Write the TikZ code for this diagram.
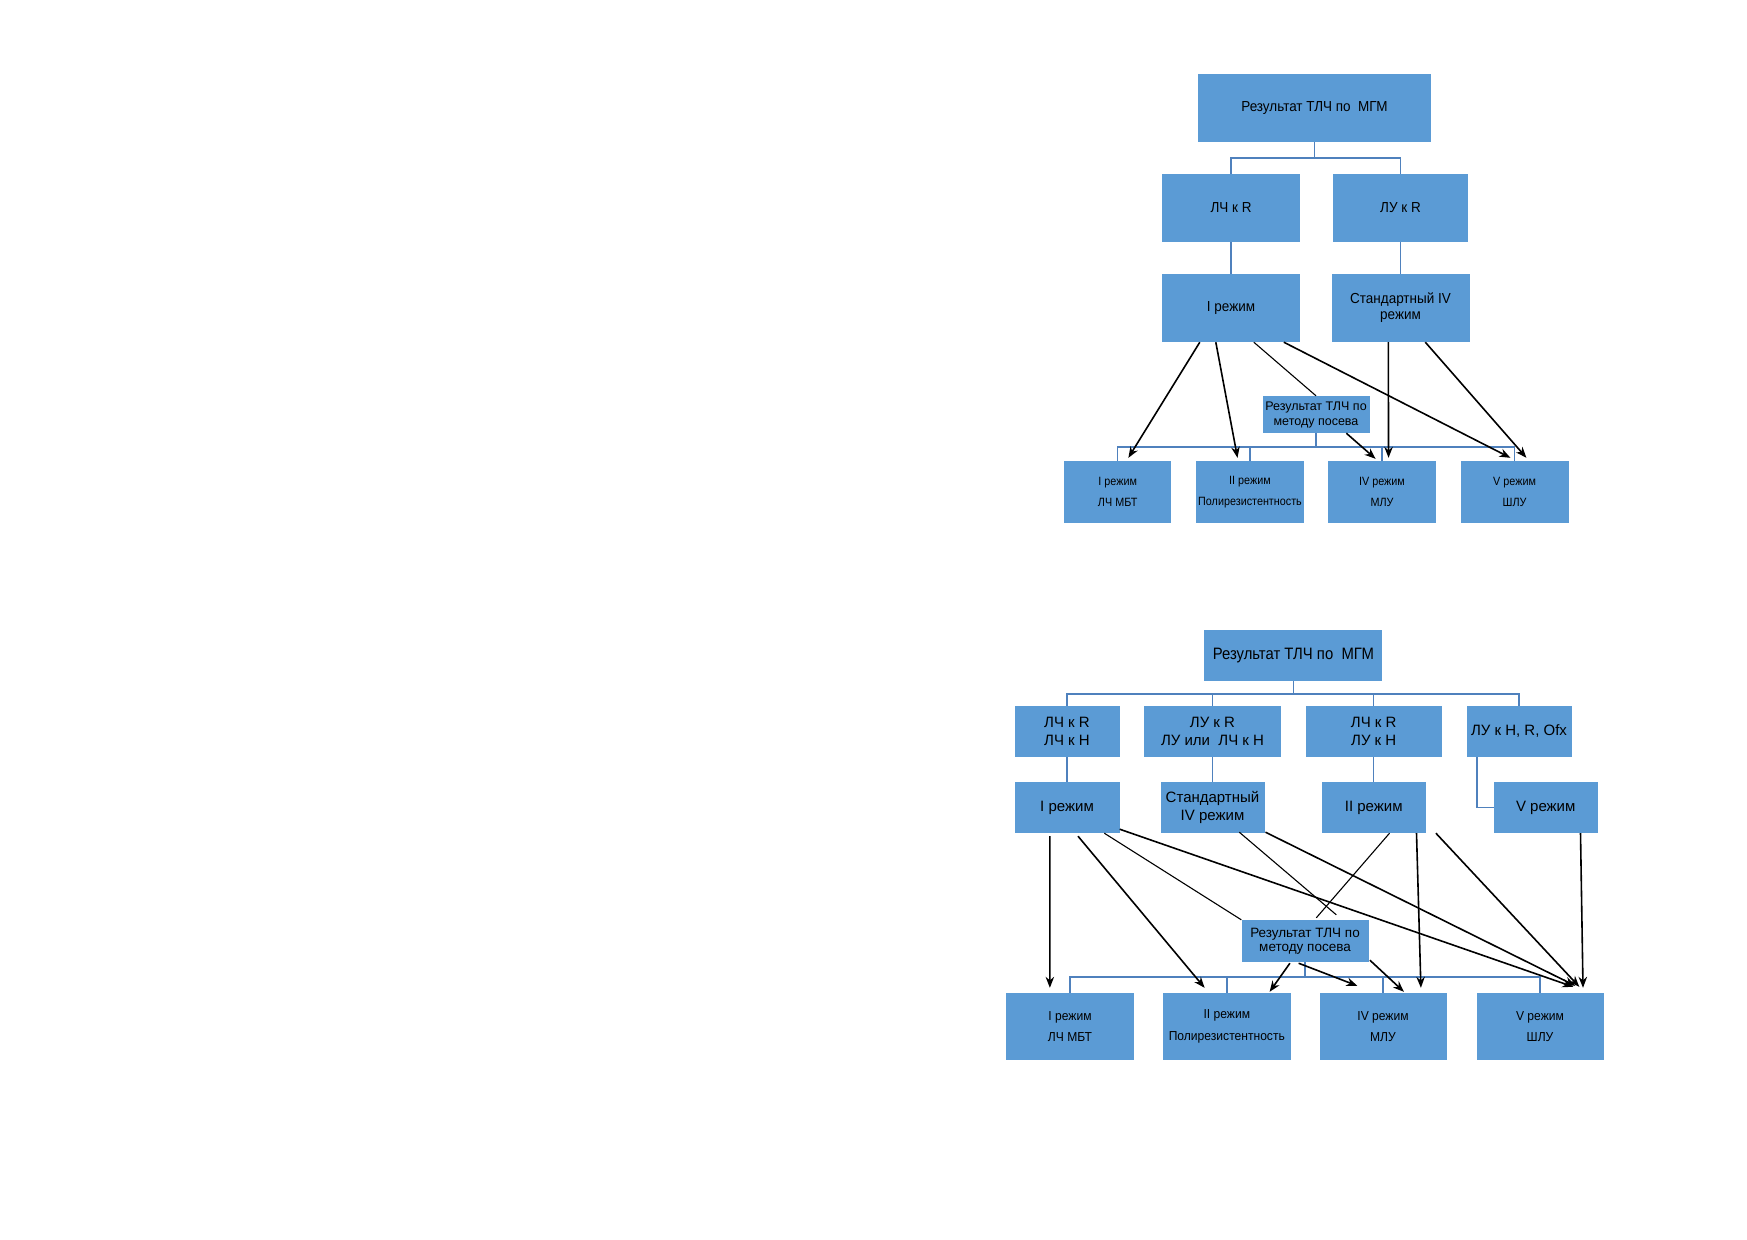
\documentclass[tikz,border=0pt]{standalone}
\usepackage{fontspec}
\setmainfont{Liberation Sans}
\newfontfamily\fTop[FakeStretch=0.93]{Liberation Sans}
\newfontfamily\fNar[FakeStretch=0.9]{Liberation Sans}
\usetikzlibrary{arrows.meta}
\definecolor{boxblue}{RGB}{91,155,213}
\definecolor{busblue}{RGB}{79,129,189}
\begin{document}
\begin{tikzpicture}[x=1pt,y=-1pt,
  box/.style={fill=boxblue, draw=none, inner sep=0pt, align=center, text=black},
  bus/.style={draw=busblue, line width=1.4pt},
  arr/.style={draw=black, line width=1.6pt, -{Stealth[length=11pt,width=8.5pt]}},
  ln/.style={draw=black, line width=1.1pt},
  ftA/.style={font={\fTop\fontsize{14.5}{16}\selectfont}},
  ftS/.style={font={\fontsize{12.5}{15}\selectfont}},
  ftB/.style={font={\fNar\fontsize{12}{21}\selectfont}},
  fbA/.style={font={\fNar\fontsize{16.5}{19}\selectfont}},
  fbR/.style={font={\fontsize{15}{17.7}\selectfont}},
  fbS/.style={font={\fontsize{13.5}{14.5}\selectfont}},
  fbB/.style={font={\fTop\fontsize{13}{21.7}\selectfont}}
]
\useasboundingbox[fill=white] (0,0) rectangle (1747,1239);

% ---------------- top diagram ----------------
\node[box,ftA,minimum width=233pt,minimum height=68pt] (t0) at (1314.5,108) {Результат ТЛЧ по~ МГМ};
\node[box,ftA,minimum width=138pt,minimum height=68pt] (t1) at (1231,208) {ЛЧ к R};
\node[box,ftA,minimum width=134.5pt,minimum height=68pt] (t2) at (1400.5,208) {ЛУ к R};
\node[box,ftA,minimum width=138pt,minimum height=68pt] (t3) at (1231,308) {I режим};
\node[box,ftA,minimum width=138pt,minimum height=68pt] (t4) at (1400.5,308) {Стандартный IV\\режим};
\node[box,ftS,minimum width=107pt,minimum height=37pt] (ts) at (1316,414.5) {Результат ТЛЧ по\\методу посева};
\node[box,ftB,minimum width=107.5pt,minimum height=62pt] (b1) at (1117.7,492) {I режим\\ЛЧ МБТ};
\node[box,ftB,minimum width=108.6pt,minimum height=62pt] (b2) at (1250,492) {II режим\\Полирезистентность};
\node[box,ftB,minimum width=108.5pt,minimum height=62pt] (b3) at (1382,492) {IV режим\\МЛУ};
\node[box,ftB,minimum width=108pt,minimum height=62pt] (b4) at (1514.6,492) {V режим\\ШЛУ};

\draw[bus] (t0.south) -- (t0.south |- 0,158) coordinate (j0);
\draw[bus] (t1.north) |- (j0) -| (t2.north);
\draw[bus] (t1.south) -- (t3.north);
\draw[bus] (t2.south) -- (t4.north);
\draw[bus] (ts.south) -- (ts.south |- 0,447) coordinate (j1);
\draw[bus] (b1.north) |- (j1) -| (b4.north);
\draw[bus] (b2.north) -- (b2.north |- j1);
\draw[bus] (b3.north) -- (b3.north |- j1);

\draw[arr] ([xshift=38pt]t3.south west) -- ([xshift=64.6pt,yshift=3pt]b1.north west);
\draw[arr] ([xshift=54pt]t3.south west) -- ([xshift=42pt,yshift=3pt]b2.north west);
\draw[ln]  ([xshift=92pt]t3.south west) -- (ts.north);
\draw[arr] ([xshift=122pt]t3.south west) -- ([xshift=50pt,yshift=3pt]b4.north west);
\draw[arr] ([xshift=57pt]t4.south west) -- ([xshift=61pt,yshift=3pt]b3.north west);
\draw[arr] ([xshift=94pt]t4.south west) -- ([xshift=66pt,yshift=3pt]b4.north west);
\draw[arr] ([xshift=84pt]ts.south west) -- ([xshift=48pt,yshift=2pt]b3.north west);

% ---------------- bottom diagram ----------------
\node[box,fbA,minimum width=178pt,minimum height=51pt] (u0) at (1293.4,655.5) {Результат ТЛЧ по~ МГМ};
\node[box,fbR,minimum width=105pt,minimum height=51pt] (u1) at (1067,731.5) {ЛЧ к R\\ЛЧ к Н};
\node[box,fbR,minimum width=137pt,minimum height=51pt] (u2) at (1212.5,731.5) {ЛУ к R\\ЛУ или~ ЛЧ к Н};
\node[box,fbR,minimum width=136pt,minimum height=51pt] (u3) at (1373.7,731.5) {ЛЧ к R\\ЛУ к Н};
\node[box,fbR,minimum width=105pt,minimum height=51pt] (u4) at (1519,731.5) {ЛУ к Н, R, Ofx};
\node[box,fbR,minimum width=105pt,minimum height=51pt] (v1) at (1067,807.5) {I режим};
\node[box,fbR,minimum width=104pt,minimum height=51pt] (v2) at (1212.5,807.5) {Стандартный\\IV режим};
\node[box,fbR,minimum width=104pt,minimum height=51pt] (v3) at (1373.7,807.5) {II режим};
\node[box,fbR,minimum width=104pt,minimum height=51pt] (v4) at (1545.7,807.5) {V режим};
\node[box,fbS,minimum width=127pt,minimum height=42pt] (us) at (1305,941) {Результат ТЛЧ по\\методу посева};
\node[box,fbB,minimum width=128.5pt,minimum height=67pt] (w1) at (1070,1026.5) {I режим\\ЛЧ МБТ};
\node[box,fbB,minimum width=128pt,minimum height=67pt] (w2) at (1226.8,1026.5) {II режим\\Полирезистентность};
\node[box,fbB,minimum width=127pt,minimum height=67pt] (w3) at (1383,1026.5) {IV режим\\МЛУ};
\node[box,fbB,minimum width=127pt,minimum height=67pt] (w4) at (1540,1026.5) {V режим\\ШЛУ};

\draw[bus] (u0.south) -- (u0.south |- 0,694) coordinate (j2);
\draw[bus] (u1.north) |- (j2) -| (u4.north);
\draw[bus] (u2.north) -- (u2.north |- j2);
\draw[bus] (u3.north) -- (u3.north |- j2);
\draw[bus] (u1.south) -- (v1.north);
\draw[bus] (u2.south) -- (v2.north);
\draw[bus] (u3.south) -- (v3.north);
\draw[bus] ([xshift=10.7pt]u4.south west) |- (v4.west);
\draw[bus] (us.south) -- (us.south |- 0,977) coordinate (j3);
\draw[bus] (w1.north) |- (j3) -| (w4.north);
\draw[bus] (w2.north) -- (w2.north |- j3);
\draw[bus] (w3.north) -- (w3.north |- j3);

\draw[arr] ([xshift=35.6pt,yshift=-3pt]v1.south west) -- ([xshift=44.3pt,yshift=5pt]w1.north west);
\draw[arr] ([xshift=63.7pt,yshift=-3pt]v1.south west) -- ([xshift=42pt,yshift=5pt]w2.north west);
\draw[ln]  ([xshift=90pt]v1.south west) -- (us.north west);
\draw[arr] ([yshift=4pt]v1.south east) -- ([xshift=97pt,yshift=6pt]w4.north west);
\draw[ln]  ([xshift=79pt,yshift=1pt]v2.south west) -- ([xshift=95pt,yshift=5pt]us.north west);
\draw[arr] ([xshift=0.8pt,yshift=1pt]v2.south east) -- ([xshift=99pt,yshift=7pt]w4.north west);
\draw[ln]  ([xshift=68pt]v3.south west) -- ([xshift=75pt,yshift=2pt]us.north west);
\draw[arr] ([xshift=95pt]v3.south west) -- ([xshift=101.6pt,yshift=5pt]w3.north west);
\draw[arr] ([xshift=10pt]v3.south east) -- ([xshift=103pt,yshift=6pt]w4.north west);
\draw[arr] ([xshift=87pt]v4.south west) -- ([xshift=106.7pt,yshift=5pt]w4.north west);
\draw[arr] ([xshift=48.6pt,yshift=-1pt]us.south west) -- ([xshift=107pt,yshift=1pt]w2.north west);
\draw[arr] ([xshift=57.3pt,yshift=-1pt]us.south west) -- ([xshift=38pt,yshift=7pt]w3.north west);
\draw[arr] ([xshift=1.2pt,yshift=2pt]us.south east) -- ([xshift=84.6pt,yshift=1pt]w3.north west);
\end{tikzpicture}
\end{document}
